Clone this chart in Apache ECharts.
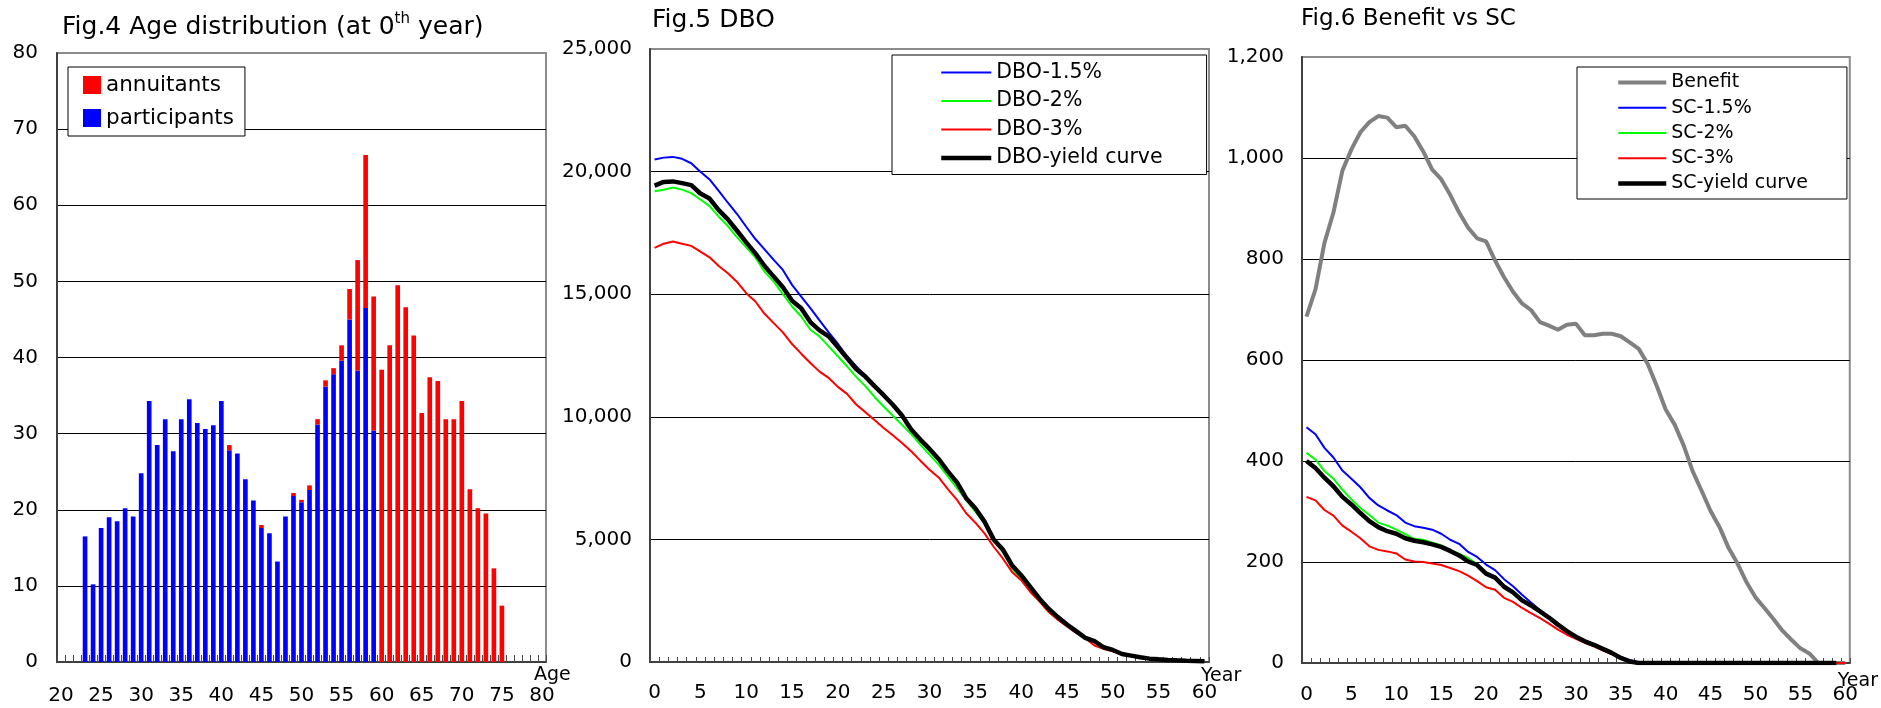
<!DOCTYPE html>
<html>
<head>
<meta charset="utf-8">
<script src="https://cdn.jsdelivr.net/npm/echarts@6/dist/echarts.min.js"></script>
<style>
  html, body { margin: 0; padding: 0; background: #ffffff; }
  #main { width: 1881px; height: 708px; }
</style>
</head>
<body>
<div id="main"></div>
<script>
// ---- Fig.4: age distribution at year 0 (ages 20..80) ----
const ages = ['20','21','22','23','24','25','26','27','28','29',
              '30','31','32','33','34','35','36','37','38','39',
              '40','41','42','43','44','45','46','47','48','49',
              '50','51','52','53','54','55','56','57','58','59',
              '60','61','62','63','64','65','66','67','68','69',
              '70','71','72','73','74','75','76','77','78','79','80'];

const participants = [
  0, 0, 0, 16.5, 10.2, 17.6, 19.0, 18.5, 20.2, 19.1,          // 20-29
  24.8, 34.3, 28.5, 31.9, 27.7, 31.9, 34.5, 31.4, 30.6, 31.1,  // 30-39
  34.3, 27.8, 27.4, 24.0, 21.2, 17.6, 16.9, 13.2, 19.1, 21.8,  // 40-49
  21.0, 22.6, 31.2, 36.2, 37.8, 39.6, 45.0, 38.3, 46.5, 30.4,  // 50-59
  0, 0, 0, 0, 0, 0, 0, 0, 0, 0,                                // 60-69
  0, 0, 0, 0, 0, 0, 0, 0, 0, 0, 0                              // 70-80
];

const annuitants = [
  0, 0, 0, 0, 0, 0, 0, 0, 0, 0,                                // 20-29
  0, 0, 0, 0, 0, 0, 0, 0, 0, 0,                                // 30-39
  0, 0.7, 0, 0, 0, 0.4, 0, 0, 0, 0.4,                          // 40-49
  0.3, 0.6, 0.7, 0.8, 0.8, 2.0, 4.0, 14.5, 20.1, 17.6,         // 50-59
  38.4, 41.6, 49.5, 46.6, 42.9, 32.7, 37.4, 36.9, 31.9, 31.9,  // 60-69
  34.3, 22.7, 20.2, 19.5, 12.3, 7.4, 0, 0, 0, 0, 0             // 70-80
];

// ---- Fig.5 / Fig.6: projection years 0..60 ----
const years = ['0','1','2','3','4','5','6','7','8','9',
               '10','11','12','13','14','15','16','17','18','19',
               '20','21','22','23','24','25','26','27','28','29',
               '30','31','32','33','34','35','36','37','38','39',
               '40','41','42','43','44','45','46','47','48','49',
               '50','51','52','53','54','55','56','57','58','59','60'];

const dbo15 = [
  20490, 20570, 20600, 20520, 20340, 19990, 19680, 19210, 18730, 18270,
  17750, 17250, 16830, 16400, 15990, 15380, 14900, 14430, 13930, 13440,
  12980, 12470, 12060, 11680, 11310, 10900, 10500, 10070, 9520, 9100,
  8720, 8310, 7800, 7350, 6710, 6300, 5750, 5030, 4600, 3960,
  3550, 3070, 2590, 2180, 1835, 1535, 1260, 986, 850, 602,
  493, 329, 261, 192, 138, 110, 83, 69, 56, 46, 31
];
const dbo2 = [
  19200, 19260, 19350, 19265, 19120, 18860, 18590, 18160, 17780, 17320,
  16910, 16500, 15920, 15510, 15000, 14500, 14090, 13550, 13280, 12870,
  12470, 12060, 11630, 11250, 10810, 10420, 10040, 9670, 9300, 8866,
  8456, 8047, 7568, 7090, 6612, 6134, 5656, 4973, 4495, 3812,
  3402, 2992, 2530, 2120, 1780, 1500, 1230, 965, 830, 590,
  480, 320, 255, 185, 132, 105, 80, 65, 52, 42, 28
];
const dbo3 = [
  16890, 17060, 17150, 17060, 16970, 16735, 16504, 16152, 15854, 15501,
  15040, 14702, 14200, 13821, 13442, 12967, 12574, 12195, 11843, 11585,
  11220, 10935, 10501, 10190, 9865, 9545, 9249, 8935, 8593, 8211,
  7842, 7528, 7050, 6612, 6066, 5684, 5246, 4700, 4222, 3675,
  3334, 2856, 2473, 2036, 1722, 1449, 1190, 971, 670, 533,
  438, 328, 260, 164, 123, 82, 55, 40, 30, 20, 10
];
const dboYield = [
  19430, 19580, 19600, 19530, 19450, 19106, 18902, 18428, 18049, 17588,
  17114, 16667, 16152, 15718, 15285, 14729, 14431, 13862, 13523, 13279,
  12846, 12398, 11951, 11640, 11250, 10880, 10490, 10050, 9480, 9071,
  8689, 8279, 7773, 7323, 6680, 6271, 5725, 5000, 4590, 3948,
  3539, 3060, 2583, 2173, 1831, 1531, 1257, 984, 848, 601,
  492, 328, 260, 191, 137, 109, 82, 68, 55, 45, 30
];

const benefit = [
  686, 740, 832, 892, 975, 1017, 1051, 1071, 1083, 1080,
  1061, 1064, 1043, 1013, 977, 958, 927, 892, 862, 841,
  835, 797, 764, 735, 712, 699, 675, 668, 660, 670,
  672, 649, 649, 652, 652, 647, 635, 622, 592, 549,
  502, 472, 431, 380, 341, 301, 269, 228, 197, 160,
  130, 109, 87, 64, 46, 29, 19, 0, 0, 0, 0
];
const sc15 = [
  467, 453, 426, 407, 381, 365, 348, 327, 312, 302,
  293, 278, 271, 268, 264, 256, 244, 236, 220, 210,
  195, 184, 166, 152, 135, 120, 105, 91, 76, 61,
  53, 44, 37, 29, 21, 12, 6, 1, 0, 0,
  0, 0, 0, 0, 0, 0, 0, 0, 0, 0,
  0, 0, 0, 0, 0, 0, 0, 0, 0, 0, 0
];
const sc2 = [
  416, 403, 380, 365, 343, 324, 307, 293, 278, 272,
  264, 255, 246, 244, 238, 233, 224, 216, 208, 196,
  179, 171, 153, 142, 126, 116, 104, 91, 77, 63,
  53, 44, 37, 29, 21, 11, 4, 0, 0, 0,
  0, 0, 0, 0, 0, 0, 0, 0, 0, 0,
  0, 0, 0, 0, 0, 0, 0, 0, 0, 0, 0
];
const sc3 = [
  329, 322, 303, 292, 272, 260, 247, 231, 224, 221,
  217, 205, 201, 200, 197, 194, 188, 182, 173, 162,
  150, 145, 129, 121, 109, 99, 89, 78, 66, 56,
  48, 40, 33, 25, 17, 9, 2, 0, 0, 0,
  0, 0, 0, 0, 0, 0, 0, 0, 0, 0,
  0, 0, 0, 0, 0, 0, 0, 0, 0, 0, 0
];
const scYield = [
  400, 386, 367, 350, 329, 314, 297, 281, 269, 261,
  256, 247, 242, 239, 235, 230, 222, 213, 201, 194,
  177, 169, 151, 140, 124, 114, 102, 90, 76, 63,
  52, 43, 36, 28, 20, 10, 3, 0, 0, 0,
  0, 0, 0, 0, 0, 0, 0, 0, 0, 0,
  0, 0, 0, 0, 0, 0, 0, 0, 0, 0, null
];

// ---- shared styling ----
const FONT = 'DejaVu Sans';
const BLUE = '#0000ff', GREEN = '#00ff00', RED = '#ff0000', BLACK = '#000000', GRAY = '#808080';

function withCommas(v) { return Number(v).toLocaleString('en-US'); }

function catAxis(gridIndex, data, name, nameGap, namePadTop, labelMargin, tickLen) {
  return {
    type: 'category', gridIndex: gridIndex, data: data, boundaryGap: true,
    name: name, nameLocation: 'end', nameGap: nameGap, nameMoveOverlap: false,
    nameTextStyle: { fontFamily: FONT, fontSize: 19, color: '#000', align: 'left',
                     verticalAlign: 'top', padding: [namePadTop, 0, 0, 0] },
    axisLine: { show: true, lineStyle: { color: '#404040', width: 2 } },
    axisTick: { show: true, inside: true, length: tickLen, interval: 0, alignWithLabel: false,
                lineStyle: { color: '#4a4a4a', width: 1 } },
    axisLabel: { interval: 4, margin: labelMargin, fontFamily: FONT, fontSize: 20, color: '#000' },
    splitLine: { show: false }
  };
}

function valAxis(gridIndex, max, interval, fmt, margin) {
  return {
    type: 'value', gridIndex: gridIndex, min: 0, max: max, interval: interval,
    axisLine: { show: true, lineStyle: { color: '#404040', width: 2 } },
    axisTick: { show: false },
    axisLabel: { margin: margin, fontFamily: FONT, fontSize: 20, color: '#000',
                 padding: [6, 0, 0, 0], formatter: fmt },
    splitLine: { show: true, showMinLine: false, showMaxLine: false,
                 lineStyle: { color: '#000', width: 1 } }
  };
}

function lineSeries(name, data, color, width, axisIndex) {
  return {
    name: name, type: 'line', data: data,
    xAxisIndex: axisIndex, yAxisIndex: axisIndex,
    symbol: 'none', showSymbol: false, smooth: false,
    lineStyle: { color: color, width: width },
    itemStyle: { color: color },
    emphasis: { disabled: true }
  };
}

const chart = echarts.init(document.getElementById('main'), null, { renderer: 'canvas' });

const option = {
  animation: false,
  backgroundColor: '#ffffff',
  title: [
    {
      text: '{m|Fig.4 Age distribution (at 0}{s|th}{m| year)}',
      left: 62, top: 12, padding: 0,
      textStyle: {
        fontWeight: 'normal',
        rich: {
          m: { fontFamily: FONT, fontSize: 25, fontWeight: 'normal', color: '#000', lineHeight: 30 },
          s: { fontFamily: FONT, fontSize: 15, fontWeight: 'normal', color: '#000', verticalAlign: 'top', lineHeight: 16 }
        }
      }
    },
    {
      text: 'Fig.5 DBO', left: 652, top: 8, padding: 0,
      textStyle: { fontFamily: FONT, fontSize: 25, fontWeight: 'normal', color: '#000' }
    },
    {
      text: 'Fig.6 Benefit vs SC', left: 1301, top: 8, padding: 0,
      textStyle: { fontFamily: FONT, fontSize: 23, fontWeight: 'normal', color: '#000' }
    }
  ],
  grid: [
    { left: 57, top: 53, width: 489, height: 609, show: true, borderColor: '#8c8c8c', borderWidth: 2, backgroundColor: '#fff' },
    { left: 650, top: 49, width: 559, height: 613, show: true, borderColor: '#8c8c8c', borderWidth: 2, backgroundColor: '#fff' },
    { left: 1302, top: 57, width: 550, height: 606, show: true, borderColor: '#8c8c8c', borderWidth: 2, backgroundColor: '#fff' }
  ],
  xAxis: [
    catAxis(0, ages, 'Age', -12, 4, 24, 7),
    catAxis(1, years, 'Year', -8, 5, 21, 5),
    catAxis(2, years, 'Year', -12, 9, 22, 5)
  ],
  yAxis: [
    valAxis(0, 80, 10, null, 19),
    valAxis(1, 25000, 5000, withCommas, 18),
    valAxis(2, 1200, 200, withCommas, 18)
  ],
  legend: [
    {
      data: [{ name: 'annuitants', icon: 'rect' }, { name: 'participants', icon: 'rect' }],
      orient: 'vertical', left: 68, top: 67,
      padding: [7, 11, 7, 15],
      itemWidth: 18, itemHeight: 18, itemGap: 11, itemTextGap: 4,
      borderColor: '#000', borderWidth: 1, backgroundColor: '#fff',
      textStyle: { fontFamily: FONT, fontSize: 21.5, color: '#000', lineHeight: 18 },
      selectedMode: false
    },
    {
      data: ['DBO-1.5%', 'DBO-2%', 'DBO-3%', 'DBO-yield curve'],
      orient: 'vertical', left: 892, top: 55,
      padding: [7, 44, 6, 47],
      itemWidth: 50, itemHeight: 14, itemGap: 7.5, itemTextGap: 5,
      borderColor: '#000', borderWidth: 1, backgroundColor: '#fff',
      itemStyle: { opacity: 0 },
      lineStyle: { width: 'inherit' },
      textStyle: { fontFamily: FONT, fontSize: 20.5, color: '#000', lineHeight: 20 },
      selectedMode: false
    },
    {
      data: ['Benefit', 'SC-1.5%', 'SC-2%', 'SC-3%', 'SC-yield curve'],
      orient: 'vertical', left: 1577, top: 67,
      padding: [6, 39, 6, 39],
      itemWidth: 48, itemHeight: 14, itemGap: 6.25, itemTextGap: 6,
      borderColor: '#000', borderWidth: 1, backgroundColor: '#fff',
      itemStyle: { opacity: 0 },
      lineStyle: { width: 'inherit' },
      textStyle: { fontFamily: FONT, fontSize: 19, color: '#000', lineHeight: 19 },
      selectedMode: false
    }
  ],
  series: [
    {
      name: 'participants', type: 'bar', stack: 'age', data: participants,
      xAxisIndex: 0, yAxisIndex: 0, barWidth: '58%',
      itemStyle: { color: BLUE }, emphasis: { disabled: true }
    },
    {
      name: 'annuitants', type: 'bar', stack: 'age', data: annuitants,
      xAxisIndex: 0, yAxisIndex: 0, barWidth: '58%',
      itemStyle: { color: RED }, emphasis: { disabled: true }
    },
    lineSeries('DBO-1.5%', dbo15, BLUE, 2, 1),
    lineSeries('DBO-2%', dbo2, GREEN, 2, 1),
    lineSeries('DBO-3%', dbo3, RED, 2, 1),
    lineSeries('DBO-yield curve', dboYield, BLACK, 4.5, 1),
    lineSeries('Benefit', benefit, GRAY, 4, 2),
    lineSeries('SC-1.5%', sc15, BLUE, 2, 2),
    lineSeries('SC-2%', sc2, GREEN, 2, 2),
    lineSeries('SC-3%', sc3, RED, 2, 2),
    lineSeries('SC-yield curve', scYield, BLACK, 4.5, 2)
  ]
};

chart.setOption(option);
</script>
</body>
</html>
